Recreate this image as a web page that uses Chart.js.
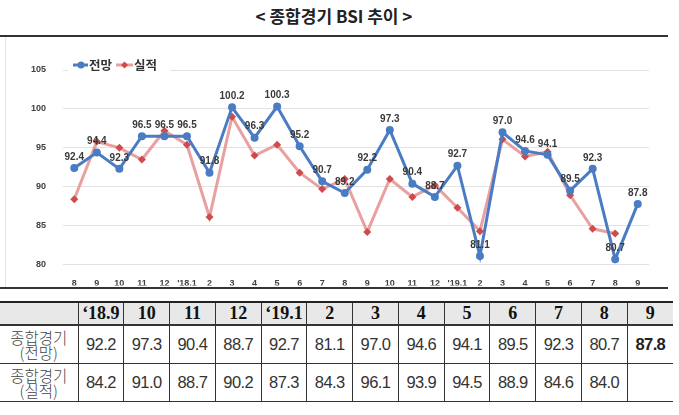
<!DOCTYPE html>
<html>
<head>
<meta charset="utf-8">
<script src="https://cdn.jsdelivr.net/npm/chart.js@4.4.1/dist/chart.umd.min.js"></script>
<style>
  body { margin: 0; width: 679px; height: 415px; background: #fff; position: relative; overflow: hidden; font-family: "Noto Sans CJK KR", sans-serif; }
  #titulo { position: absolute; left: 0; top: 3px; width: 668px; text-align: center; font-size: 17px; font-weight: bold; color: #222; }
  #lineaTop { position: absolute; left: 0; top: 35px; width: 668px; height: 2px; background: #333; }
  #marco { position: absolute; left: 5px; top: 37px; width: 663px; height: 250px; border-left: 1px solid #e4e4e4; }
  #lineaBottom { position: absolute; left: 0; top: 287px; width: 668px; height: 2px; background: #333; }
  table { position: absolute; left: 0; top: 301px; width: 673px; border-collapse: collapse; table-layout: fixed; }
  td, th { border: 1.5px solid #333; text-align: center; padding: 0; color: #333; }
  tr > :first-child { border-left: none; }
  tr > :last-child { border-right: none; }
  tr:first-child th { border-top: 2px solid #222; border-bottom: 2px solid #333; background: #e8e8e8; height: 21px; font-family: "Liberation Serif", serif; font-size: 18px; font-weight: bold; color: #111; }
  td { height: 37px; font-family: "Liberation Sans", sans-serif; font-size: 16.5px; letter-spacing: -0.6px; }
  td.etiqueta { font-family: "Noto Sans CJK KR", sans-serif; font-size: 15.5px; line-height: 15px; letter-spacing: 0; color: #444; font-weight: 300; }
</style>
</head>
<body>
<div id="titulo">&lt; 종합경기 BSI 추이 &gt;</div>
<div id="lineaTop"></div>
<div id="marco"><canvas id="grafica" width="663" height="250"></canvas></div>
<div id="lineaBottom"></div>
<table id="tabla"></table>

<script>
// categorias (2017.8 ~ 2019.9)
const meses = ["8", "9", "10", "11", "12", "'18.1", "2", "3", "4", "5", "6", "7", "8", "9", "10", "11", "12", "'19.1", "2", "3", "4", "5", "6", "7", "8", "9"];
const perspectiva = [92.4, 94.4, 92.3, 96.5, 96.5, 96.5, 91.8, 100.2, 96.3, 100.3, 95.2, 90.7, 89.2, 92.2, 97.3, 90.4, 88.7, 92.7, 81.1, 97.0, 94.6, 94.1, 89.5, 92.3, 80.7, 87.8];
const resultado = [88.4, 95.8, 95.0, 93.5, 97.2, 95.4, 86.1, 99.0, 94.0, 95.4, 91.8, 89.7, 91.0, 84.2, 91.0, 88.7, 90.2, 87.3, 84.3, 96.1, 93.9, 94.5, 88.9, 84.6, 84.0, null];
const ticksY = [80, 85, 90, 95, 100, 105];
const encabezadoTabla = ["‘18.9", "10", "11", "12", "‘19.1", "2", "3", "4", "5", "6", "7", "8", "9"];

const azul = "#4a7cc3";
const rojoLinea = "rgba(229,150,150,0.9)";
const rojoPunto = "#cf4a4a";

// etiquetas de valor sobre la serie azul
const etiquetasValor = {
  id: "etiquetasValor",
  afterDatasetsDraw(chart) {
    const ctx = chart.ctx;
    const meta = chart.getDatasetMeta(0);
    ctx.save();
    ctx.font = "bold 10px 'Liberation Sans', sans-serif";
    ctx.fillStyle = "#3a3a3a";
    ctx.textAlign = "center";
    ctx.textBaseline = "middle";
    meta.data.forEach((p, i) => {
      ctx.fillText(perspectiva[i].toFixed(1), p.x, p.y - 11);
    });
    ctx.restore();
  }
};

// leyenda dentro del area (arriba a la izquierda)
const leyenda = {
  id: "leyenda",
  afterDraw(chart) {
    const ctx = chart.ctx;
    const y = 28;
    ctx.save();
    ctx.fillStyle = "#fff";
    ctx.fillRect(62, 20, 102, 17);
    ctx.lineWidth = 3;
    ctx.strokeStyle = azul;
    ctx.beginPath(); ctx.moveTo(67, y); ctx.lineTo(82, y); ctx.stroke();
    ctx.fillStyle = azul;
    ctx.beginPath(); ctx.arc(75, y, 3.5, 0, Math.PI * 2); ctx.fill();
    ctx.strokeStyle = rojoLinea;
    ctx.beginPath(); ctx.moveTo(110, y); ctx.lineTo(127, y); ctx.stroke();
    ctx.fillStyle = rojoPunto;
    ctx.beginPath(); ctx.moveTo(118.5, y - 3.5); ctx.lineTo(122, y); ctx.lineTo(118.5, y + 3.5); ctx.lineTo(115, y); ctx.closePath(); ctx.fill();
    ctx.font = "bold 12.5px 'Noto Sans CJK KR', sans-serif";
    ctx.fillStyle = "#333";
    ctx.textBaseline = "middle";
    ctx.fillText("전망", 83, y);
    ctx.fillText("실적", 128, y);
    ctx.restore();
  }
};

const ctx = document.getElementById("grafica").getContext("2d");
new Chart(ctx, {
  type: "line",
  data: {
    labels: meses,
    datasets: [
      {
        label: "전망",
        data: perspectiva,
        borderColor: azul,
        backgroundColor: azul,
        borderWidth: 3,
        pointRadius: 4,
        pointStyle: "circle",
        pointBorderWidth: 0,
        tension: 0
      },
      {
        label: "실적",
        data: resultado,
        borderColor: rojoLinea,
        backgroundColor: rojoPunto,
        borderWidth: 3,
        pointRadius: 4,
        pointStyle: "rectRot",
        pointBorderWidth: 0,
        tension: 0
      }
    ]
  },
  options: {
    responsive: false,
    animation: false,
    layout: { padding: { top: 33, right: 20, left: 0, bottom: 0 } },
    plugins: {
      legend: { display: false },
      tooltip: { enabled: false }
    },
    scales: {
      x: {
        offset: true,
        grid: { display: false },
        border: { display: false },
        ticks: { color: "#404040", font: { size: 9, weight: "bold", family: "Liberation Sans" }, padding: 6, maxRotation: 0, autoSkip: false },
        afterFit(scale) { scale.height = 21; }
      },
      y: {
        min: ticksY[0],
        max: ticksY[ticksY.length - 1],
        afterBuildTicks(scale) { scale.ticks = ticksY.map(v => ({ value: v })); },
        grid: { color: "#e2e2e2", lineWidth: 1, drawTicks: false },
        border: { display: false },
        ticks: { color: "#404040", font: { size: 9, weight: "bold", family: "Liberation Sans" }, padding: 17 },
        afterFit(scale) { scale.width = 57; }
      }
    }
  },
  plugins: [etiquetasValor, leyenda]
});

// tabla de los ultimos 13 meses
const n = encabezadoTabla.length;
const filaPersp = perspectiva.slice(-n);
const filaRes = resultado.slice(-n);
let html = "<colgroup><col style='width:78px'>" + encabezadoTabla.map(() => "<col>").join("") + "</colgroup>";
html += "<tr><th></th>" + encabezadoTabla.map(h => `<th>${h}</th>`).join("") + "</tr>";
html += "<tr><td class='etiqueta'>종합경기<br>(전망)</td>" + filaPersp.map((v, i) =>
  `<td${i === n - 1 ? " style='font-weight:bold;color:#222'" : ""}>${v.toFixed(1)}</td>`).join("") + "</tr>";
html += "<tr><td class='etiqueta'>종합경기<br>(실적)</td>" + filaRes.map(v =>
  `<td>${v === null ? "" : v.toFixed(1)}</td>`).join("") + "</tr>";
document.getElementById("tabla").innerHTML = html;
</script>
</body>
</html>
